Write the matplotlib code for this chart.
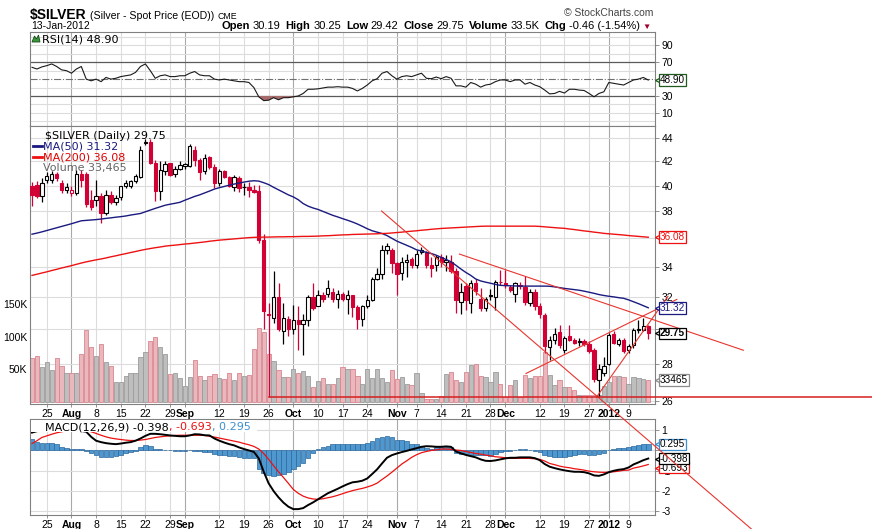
import matplotlib

matplotlib.use("Agg")
import matplotlib.pyplot as plt
import numpy as np
import pandas as pd
from matplotlib.lines import Line2D
from matplotlib.patches import Polygon, Rectangle
from matplotlib.ticker import NullLocator
from matplotlib.transforms import blended_transform_factory, offset_copy

plt.rcParams["font.family"] = ["Liberation Sans", "DejaVu Sans"]

W, H = 872, 529
RED = "#d10035"
MA50_COLOR = "#1a1a80"
MA200_COLOR = "#ee1111"
TREND_COLOR = "#e8352e"
GRID = "#dcdcdc"
MONTH_GRID = "#a9a9a9"
LEGEND_FONT = "DejaVu Sans"

# Trading days on the chart (no bars on 26 Dec and 2 Jan).
dates = pd.bdate_range("2011-07-20", "2012-01-13").drop(
    pd.to_datetime(["2011-12-26", "2012-01-02"])
)

opens = [
    40.0, 40.1, 39.2, 40.5, 40.5, 41.0, 40.2, 39.7, 39.4, 39.4,
    41.0, 41.0, 38.9, 38.9, 39.2, 37.9, 39.3, 38.7, 39.1, 40.0,
    40.0, 40.4, 40.7, 43.6, 43.7, 41.9, 39.6, 41.2, 41.9, 41.0,
    41.4, 41.6, 41.6, 43.0, 42.1, 41.2, 42.4, 41.5, 40.2, 41.2,
    40.7, 39.9, 40.6, 39.9, 39.9, 39.7, 39.6, 35.9, 30.95, 30.7,
    32.0, 29.9, 30.65, 30.0, 30.55, 30.3, 30.55, 32.0, 31.4, 32.1,
    32.2, 32.3, 31.85, 32.2, 31.9, 32.1, 31.35, 30.6, 31.4, 31.8,
    33.2, 33.5, 35.15, 35.2, 34.25, 33.55, 34.3, 34.55, 34.1, 35.0,
    35.05, 34.1, 34.1, 34.7, 34.35, 34.35, 33.75, 31.7, 32.7, 31.6,
    32.9, 31.9, 31.3, 32.1, 32.0, 33.0, 32.9, 32.65, 32.2, 32.8,
    32.65, 31.6, 32.35, 31.4, 30.86, 28.96, 29.35, 29.84, 28.76, 29.6,
    29.35, 29.3, 29.3, 29.15, 28.76, 27.12, 27.48, 28.0, 29.7, 29.15,
    29.35, 28.8, 29.06, 29.94, 29.98, 30.19,
]
highs = [
    40.3, 40.4, 40.6, 41.1, 41.2, 41.1, 40.5, 40.2, 40.0, 41.3,
    41.3, 41.1, 39.7, 40.5, 39.4, 39.7, 39.6, 39.3, 40.0, 40.5,
    40.5, 41.0, 43.3, 43.9, 43.9, 42.1, 42.0, 42.0, 41.9, 41.6,
    42.0, 41.9, 43.5, 43.3, 42.3, 42.6, 42.5, 41.8, 41.4, 41.3,
    40.8, 40.9, 40.8, 40.2, 40.3, 40.1, 40.1, 36.3, 31.6, 33.7,
    32.9, 31.6, 30.8, 31.5, 31.4, 30.9, 32.1, 32.9, 32.45, 32.3,
    33.1, 32.6, 32.45, 32.3, 32.45, 32.15, 31.5, 31.5, 32.1, 33.3,
    33.9, 35.5, 35.7, 35.3, 34.35, 34.7, 34.9, 34.7, 35.15, 35.35,
    35.1, 34.7, 34.85, 34.9, 34.85, 34.8, 33.9, 32.9, 32.9, 33.1,
    33.2, 32.6, 32.0, 32.5, 33.1, 33.8, 33.8, 32.8, 33.0, 33.0,
    33.4, 32.5, 32.5, 31.6, 31.0, 29.6, 30.05, 30.25, 29.6, 30.25,
    29.5, 29.5, 29.4, 29.3, 28.9, 28.0, 28.4, 29.8, 29.9, 29.5,
    29.5, 29.1, 30.1, 30.55, 30.7, 30.25,
]
lows = [
    38.4, 39.0, 38.7, 40.2, 40.2, 40.4, 39.4, 39.4, 39.2, 39.3,
    39.9, 38.3, 38.1, 38.4, 37.1, 37.7, 38.6, 38.5, 38.9, 39.8,
    39.8, 40.2, 40.6, 43.4, 41.8, 38.8, 38.9, 40.9, 40.8, 40.7,
    41.3, 41.4, 41.5, 41.6, 40.5, 41.0, 41.4, 39.8, 40.0, 40.6,
    39.9, 39.6, 39.5, 39.3, 39.1, 39.4, 35.7, 30.0, 26.17, 30.4,
    29.9, 29.15, 29.6, 29.7, 28.8, 28.5, 30.2, 31.2, 31.4, 31.7,
    32.0, 31.7, 31.3, 31.75, 30.95, 30.75, 30.0, 30.2, 31.3, 31.75,
    33.1, 33.2, 34.9, 33.55, 32.1, 33.1, 33.3, 33.9, 33.9, 34.9,
    33.9, 33.3, 33.75, 34.0, 33.75, 33.55, 31.0, 30.9, 31.2, 31.0,
    32.1, 31.1, 31.1, 31.8, 31.2, 32.8, 32.6, 32.3, 31.7, 32.5,
    31.5, 31.4, 31.2, 30.7, 28.6, 28.2, 29.1, 28.9, 28.6, 29.3,
    29.1, 29.0, 29.0, 28.6, 27.0, 26.19, 27.3, 27.9, 29.1, 29.0,
    28.6, 28.6, 28.9, 29.8, 29.9, 29.42,
]
closes = [
    39.3, 39.2, 40.2, 40.8, 41.0, 40.6, 39.7, 39.9, 39.7, 41.0,
    40.5, 38.6, 38.3, 39.2, 37.9, 39.3, 38.7, 39.0, 40.0, 40.2,
    40.4, 40.8, 43.0, 43.7, 41.9, 39.6, 41.3, 41.8, 40.9, 41.4,
    41.7, 41.8, 43.3, 42.1, 41.1, 42.3, 41.5, 40.2, 41.2, 40.7,
    40.0, 40.7, 39.8, 39.9, 39.7, 39.5, 35.9, 31.1, 30.85, 32.0,
    30.0, 30.7, 30.0, 30.55, 30.3, 30.55, 32.0, 31.3, 32.1, 31.9,
    32.6, 31.85, 32.2, 31.85, 32.1, 31.35, 30.6, 31.4, 31.8, 33.2,
    33.5, 35.15, 35.45, 34.25, 33.5, 34.3, 34.5, 34.1, 34.9, 35.2,
    34.1, 33.9, 34.7, 34.35, 34.5, 33.75, 31.8, 32.3, 31.8, 32.9,
    32.4, 31.3, 31.9, 32.05, 33.0, 32.95, 32.8, 32.45, 32.9, 32.7,
    31.7, 32.35, 31.4, 30.9, 29.0, 29.35, 29.7, 29.06, 29.45, 29.35,
    29.2, 29.25, 29.15, 28.72, 27.17, 27.72, 27.85, 29.65, 29.2, 29.35,
    28.72, 29.0, 29.94, 30.0, 30.21, 29.75,
]
# volume in thousands
volume_k = [
    67, 71, 53, 61, 49, 68, 55, 44, 44, 44,
    73, 111, 84, 71, 89, 61, 55, 30, 30, 39,
    44, 45, 69, 77, 94, 100, 84, 73, 42, 44,
    36, 25, 38, 65, 39, 34, 39, 42, 36, 35,
    45, 34, 44, 39, 41, 81, 113, 107, 73, 62,
    49, 38, 38, 50, 44, 47, 39, 22, 32, 36,
    28, 27, 36, 53, 51, 51, 39, 27, 50, 36,
    51, 36, 31, 49, 35, 38, 28, 26, 45, 13,
    5, 5, 5, 9, 42, 46, 34, 31, 46, 56,
    58, 40, 38, 31, 46, 28, 8, 26, 34, 8,
    41, 36, 39, 40, 77, 41, 26, 34, 23, 23,
    18, 10, 10, 10, 10, 10, 24, 31, 39, 39,
    38, 28, 38, 36, 35, 33.465,
]
ma50 = [
    36.30, 36.38, 36.47, 36.57, 36.67, 36.77, 36.87, 36.97, 37.07, 37.18,
    37.29, 37.32, 37.35, 37.38, 37.42, 37.47, 37.51, 37.56, 37.60, 37.65,
    37.72, 37.78, 37.84, 37.97, 38.10, 38.23, 38.35, 38.47, 38.55, 38.62,
    38.70, 38.86, 39.01, 39.16, 39.28, 39.43, 39.58, 39.74, 39.85, 39.95,
    40.05, 40.14, 40.22, 40.30, 40.37, 40.41, 40.38, 40.25, 40.10, 39.88,
    39.68, 39.48, 39.28, 39.12, 38.90, 38.60, 38.40, 38.26, 38.15, 38.00,
    37.85, 37.70, 37.58, 37.45, 37.33, 37.20, 37.05, 36.88, 36.70, 36.55,
    36.45, 36.35, 36.20, 36.00, 35.80, 35.65, 35.50, 35.35, 35.18, 35.10,
    35.00, 34.92, 34.80, 34.65, 34.50, 34.35, 34.10, 33.85, 33.62, 33.42,
    33.18, 33.05, 32.97, 32.90, 32.82, 32.76, 32.74, 32.73, 32.72, 32.71,
    32.71, 32.71, 32.71, 32.71, 32.71, 32.70, 32.66, 32.61, 32.56, 32.52,
    32.48, 32.44, 32.38, 32.31, 32.24, 32.16, 32.10, 32.05, 32.01, 31.96,
    31.92, 31.82, 31.70, 31.58, 31.45, 31.32,
]
ma200 = [
    33.42, 33.50, 33.58, 33.66, 33.75, 33.83, 33.92, 34.00, 34.08, 34.17,
    34.26, 34.34, 34.41, 34.48, 34.54, 34.61, 34.69, 34.76, 34.84, 34.91,
    34.99, 35.06, 35.14, 35.21, 35.27, 35.33, 35.38, 35.44, 35.48, 35.51,
    35.55, 35.59, 35.62, 35.66, 35.70, 35.74, 35.79, 35.83, 35.87, 35.90,
    35.93, 35.96, 35.99, 36.02, 36.05, 36.07, 36.08, 36.09, 36.09, 36.10,
    36.11, 36.11, 36.12, 36.12, 36.13, 36.14, 36.14, 36.15, 36.16, 36.18,
    36.19, 36.21, 36.23, 36.25, 36.26, 36.28, 36.29, 36.30, 36.31, 36.32,
    36.33, 36.35, 36.36, 36.39, 36.42, 36.45, 36.49, 36.52, 36.55, 36.59,
    36.62, 36.66, 36.69, 36.72, 36.74, 36.76, 36.78, 36.80, 36.82, 36.84,
    36.86, 36.88, 36.89, 36.89, 36.89, 36.89, 36.89, 36.89, 36.89, 36.89,
    36.89, 36.89, 36.89, 36.87, 36.84, 36.81, 36.78, 36.75, 36.73, 36.68,
    36.64, 36.59, 36.54, 36.50, 36.45, 36.41, 36.36, 36.33, 36.30, 36.27,
    36.24, 36.20, 36.17, 36.14, 36.11, 36.08,
]
rsi14 = [
    64, 62, 64.5, 66, 68, 65, 61, 60, 57, 62,
    65, 50, 48, 50, 47, 52, 50, 51, 53, 54,
    55, 58, 65, 68, 60, 51, 54, 55, 53, 53,
    54, 54, 57, 59, 55, 54, 54, 50, 49, 50,
    49, 48, 47, 47, 46, 40, 29, 24.5, 25, 28,
    25.5, 28, 28, 29, 30, 33, 38, 38, 38.5, 39.5,
    40.5, 40.5, 41, 40.5, 40.5, 39, 36, 39, 43, 48,
    50.5, 57, 59, 54, 50, 53, 54, 53, 55, 57,
    51, 50.5, 52.5, 50.5, 53, 51, 42, 42, 40.5, 46,
    44, 40.5, 43, 44, 47, 49, 49, 47, 49, 49,
    44, 46, 43, 41, 37, 32.5, 33, 35.5, 33.5, 38,
    38, 37, 36.5, 33, 29, 33, 35, 46, 45, 44,
    43, 46, 49, 50, 52, 48.90,
]
macd_line = [
    0.88, 0.95, 1.0, 1.05, 1.1, 1.15, 1.12, 1.07, 1.02, 0.99,
    0.96, 0.92, 0.67, 0.48, 0.41, 0.36, 0.33, 0.31, 0.34, 0.38,
    0.41, 0.48, 0.59, 0.72, 0.82, 0.82, 0.80, 0.77, 0.74, 0.72,
    0.70, 0.70, 0.74, 0.80, 0.79, 0.75, 0.74, 0.59, 0.48, 0.39,
    0.31, 0.25, 0.15, 0.07, 0.0, -0.07, -0.39, -1.05, -1.62, -2.0,
    -2.31, -2.57, -2.77, -2.89, -2.89, -2.84, -2.69, -2.56, -2.41, -2.26,
    -2.11, -2.0, -1.89, -1.77, -1.66, -1.57, -1.54, -1.49, -1.38, -1.16,
    -0.93, -0.64, -0.36, -0.23, -0.15, -0.08, -0.02, 0.05, 0.11, 0.18,
    0.21, 0.20, 0.18, 0.18, 0.20, 0.18, -0.05, -0.14, -0.22, -0.28,
    -0.34, -0.44, -0.51, -0.52, -0.49, -0.44, -0.39, -0.36, -0.36, -0.34,
    -0.34, -0.34, -0.38, -0.48, -0.67, -0.80, -0.87, -0.93, -0.98, -1.02,
    -1.05, -1.05, -1.07, -1.13, -1.23, -1.25, -1.18, -1.07, -1.0, -0.95,
    -0.92, -0.84, -0.69, -0.59, -0.48, -0.398,
]
macd_signal = [
    0.34, 0.48, 0.64, 0.72, 0.80, 0.87, 0.92, 0.97, 0.98, 1.0,
    1.0, 1.0, 0.92, 0.84, 0.75, 0.67, 0.61, 0.57, 0.54, 0.51,
    0.49, 0.49, 0.51, 0.54, 0.59, 0.64, 0.67, 0.70, 0.72, 0.74,
    0.75, 0.75, 0.75, 0.75, 0.75, 0.74, 0.70, 0.66, 0.61, 0.56,
    0.51, 0.46, 0.41, 0.34, 0.28, 0.20, 0.07, -0.15, -0.44, -0.75,
    -1.05, -1.33, -1.62, -1.92, -2.11, -2.25, -2.34, -2.39, -2.41, -2.38,
    -2.33, -2.28, -2.21, -2.13, -2.05, -1.98, -1.92, -1.87, -1.80, -1.72,
    -1.61, -1.43, -1.26, -1.07, -0.87, -0.67, -0.51, -0.34, -0.21, -0.11,
    -0.05, 0.0, 0.03, 0.07, 0.07, 0.05, 0.02, 0.0, -0.05, -0.10,
    -0.15, -0.18, -0.23, -0.26, -0.31, -0.33, -0.36, -0.39, -0.39, -0.39,
    -0.39, -0.39, -0.41, -0.44, -0.52, -0.64, -0.70, -0.77, -0.82, -0.85,
    -0.90, -0.93, -0.97, -1.02, -1.05, -1.07, -1.08, -1.07, -1.05, -1.02,
    -0.98, -0.97, -0.87, -0.82, -0.76, -0.693,
]
macd_hist = [
    0.54, 0.43, 0.39, 0.39, 0.36, 0.30, 0.18, 0.10, 0.05, 0.08,
    0.07, -0.05, -0.11, -0.23, -0.34, -0.31, -0.34, -0.28, -0.20, -0.13,
    -0.10, -0.02, 0.15, 0.26, 0.21, 0.05, 0.05, 0.03, 0.02, -0.03,
    -0.03, -0.02, 0.02, -0.02, -0.05, -0.10, -0.10, -0.18, -0.20, -0.21,
    -0.25, -0.28, -0.31, -0.36, -0.36, -0.39, -0.93, -1.13, -1.21, -1.25,
    -1.21, -1.16, -1.05, -0.93, -0.77, -0.61, -0.36, -0.11, 0.08, 0.18,
    0.23, 0.30, 0.34, 0.34, 0.31, 0.30, 0.30, 0.34, 0.39, 0.46,
    0.59, 0.67, 0.70, 0.67, 0.51, 0.51, 0.48, 0.34, 0.30, 0.21,
    0.13, 0.05, 0.15, 0.18, 0.15, 0.15, -0.11, -0.15, -0.18, -0.20,
    -0.20, -0.23, -0.23, -0.25, -0.15, -0.08, -0.02, -0.02, 0.02, 0.07,
    0.05, 0.02, -0.02, -0.10, -0.20, -0.28, -0.31, -0.34, -0.31, -0.28,
    -0.23, -0.18, -0.18, -0.23, -0.23, -0.18, -0.11, 0.02, 0.07, 0.10,
    0.13, 0.18, 0.23, 0.26, 0.30, 0.295,
]

tick_dates = [
    "2011-07-25", "2011-08-01", "2011-08-08", "2011-08-15", "2011-08-22",
    "2011-08-29", "2011-09-01", "2011-09-12", "2011-09-19", "2011-09-26",
    "2011-10-03", "2011-10-10", "2011-10-17", "2011-10-24", "2011-11-01",
    "2011-11-07", "2011-11-14", "2011-11-21", "2011-11-28", "2011-12-01",
    "2011-12-12", "2011-12-19", "2011-12-27", "2012-01-03", "2012-01-09",
]
tick_labels = [
    "25", "Aug", "8", "15", "22", "29", "Sep", "12", "19", "26", "Oct", "10",
    "17", "24", "Nov", "7", "14", "21", "28", "Dec", "12", "19", "27", "2012", "9",
]
MONTH_LABELS = {"Aug", "Sep", "Oct", "Nov", "Dec", "2012"}
price_levels = [26, 28, 30, 32, 34, 36, 38, 40, 42, 44]
price_labels = ["26", "28", "", "32", "34", "", "38", "40", "42", "44"]

# Hand-drawn trendlines as (day index, price) end points.
trendlines = [
    [(70.9, 38.03), (146.0, 20.08)],
    [(86.7, 34.88), (144.3, 28.76)],
    [(100.2, 27.45), (130.8, 31.85)],
    [(114.5, 26.18), (129.0, 32.05)],
]
support_line = [(48.0, 26.17), (170.4, 26.17)]

fig = plt.figure(figsize=(W / 100, H / 100), dpi=100)


def px_axes(x0, y0, x1, y1):
    """Adds axes given in pixel coordinates measured from the top left."""
    return fig.add_axes([x0 / W, 1 - y1 / H, (x1 - x0) / W, (y1 - y0) / H])


def text_run(x_px, y_px, parts, **common):
    """Writes pieces of text one after another on a single baseline."""
    renderer = fig.canvas.get_renderer()
    x = x_px
    for s, kw, gap in parts:
        t = fig.text(x / W, 1 - y_px / H, s, va="baseline", **common, **kw)
        x += t.get_window_extent(renderer).width + gap
    return x


def draw_tag(ax, y, text, edge, color="black", weight="normal", dy_px=0.0):
    """Draws a boxed value label with a pointer just right of a panel."""
    trans = blended_transform_factory(ax.transAxes, ax.transData)
    trans = offset_copy(trans, fig=fig, x=0, y=-dy_px * 0.72, units="points")
    ax.plot([1.0 + 4.5 / 625], [y], marker="<", ms=6.5, mfc="white", mec=edge, mew=0.9,
            transform=trans, clip_on=False, zorder=7)
    ax.text(1.0 + 5 / 625, y, text, transform=trans, ha="left", va="center",
            fontsize=7.2, color=color, fontweight=weight, zorder=8, clip_on=False,
            bbox=dict(boxstyle="square,pad=0.08", fc="white", ec=edge, lw=0.9))


def fig_line(x0, x1, y, color, lw=2.0):
    fig.add_artist(Line2D([x0 / W, x1 / W], [1 - y / H, 1 - y / H],
                          transform=fig.transFigure, color=color, lw=lw))


def main():
    n = len(closes)
    x = np.arange(n)
    xlim = (-0.41, 126.37)
    tick_pos = [dates.get_loc(pd.Timestamp(d)) for d in tick_dates]
    prev_close = np.r_[opens[0], closes[:-1]]
    down = np.array(closes) < prev_close

    ax_rsi = px_axes(30, 32, 655, 126)
    ax_px = px_axes(30, 126, 655, 404)
    ax_macd = px_axes(30, 419, 655, 515)
    ax_vol = ax_px.twinx()
    ax_vol.set_zorder(1)
    ax_px.set_zorder(2)
    ax_px.patch.set_visible(False)
    ax_vol.patch.set_visible(True)
    ax_vol.patch.set_facecolor("white")

    for ax, grid_ax, show_dates in ((ax_rsi, ax_rsi, False), (ax_px, ax_vol, True),
                                    (ax_macd, ax_macd, True)):
        ax.set_xlim(*xlim)
        for s in ax.spines.values():
            s.set_color("#808080")
            s.set_linewidth(0.8)
        ax.yaxis.tick_right()
        ax.tick_params(axis="y", which="both", length=3, width=0.6, color="#808080",
                       labelsize=7.5, pad=1.5)
        ax.tick_params(axis="x", length=2 if show_dates else 0, width=0.6,
                       color="#808080", labelsize=7.5, pad=1.5)
        ax.set_xticks(tick_pos)
        ax.set_xticklabels(tick_labels if show_dates else [])
        for t in ax.get_xticklabels():
            if t.get_text() in MONTH_LABELS:
                t.set_fontweight("bold")
        for p, lab in zip(tick_pos, tick_labels):
            grid_ax.axvline(p, color=MONTH_GRID if lab in MONTH_LABELS else GRID,
                            lw=0.8, zorder=0)

    # RSI panel
    ax_rsi.set_ylim(-5.6, 105.9)
    for v in range(0, 101, 10):
        if v in (30, 70):
            ax_rsi.axhline(v, color="#5a5a5a", lw=0.9, zorder=1)
        elif v == 50:
            ax_rsi.axhline(v, color="#707070", lw=0.8, ls="-.", zorder=1)
        else:
            ax_rsi.axhline(v, color=GRID, lw=0.8, zorder=0)
    ax_rsi.set_yticks([10, 30, 70, 90])
    r = np.array(rsi14)
    ax_rsi.fill_between(x, r, 30, where=r < 30, interpolate=True,
                        color="#a86b6b", lw=0, zorder=2)
    ax_rsi.plot(x, r, color="#1a1a1a", lw=0.8, zorder=3)
    draw_tag(ax_rsi, 48.90, "48.90", "#1f5a1f")

    # price panel with volume behind it
    ax_px.set_yscale("log")
    ax_px.set_ylim(25.82, 45.1)
    ax_px.set_yticks(price_levels)
    ax_px.set_yticklabels(price_labels)
    ax_px.yaxis.set_minor_locator(NullLocator())
    hgrid = blended_transform_factory(ax_vol.transAxes, ax_px.transData)
    for v in price_levels:
        ax_vol.plot([0, 1], [v, v], transform=hgrid, color=GRID, lw=0.8, zorder=0)

    ax_vol.bar(x, volume_k, width=0.86,
               color=np.where(down, "#eab7bc", "#bebebe"),
               edgecolor=np.where(down, "#d98690", "#9c9c9c"), linewidth=0.6, zorder=2)
    ax_vol.set_ylim(-3.4, 424.3)
    ax_vol.yaxis.tick_left()
    ax_vol.set_yticks([50, 100, 150])
    ax_vol.set_yticklabels(["50K", "100K", "150K"])
    ax_vol.tick_params(axis="y", length=0, labelsize=7.5, pad=2)
    for s in ax_vol.spines.values():
        s.set_visible(False)

    for i in range(n):
        o, h, l, c = opens[i], highs[i], lows[i], closes[i]
        col = RED if down[i] else "black"
        ax_px.vlines(i, l, h, color=col, lw=0.9, zorder=3)
        ax_px.add_patch(Rectangle((i - 0.34, min(o, c)), 0.68, abs(c - o),
                                  facecolor=col if c < o else "white",
                                  edgecolor=col, lw=0.8, zorder=4))
    ax_px.plot(x, ma50, color=MA50_COLOR, lw=1.0, zorder=5)
    ax_px.plot(x, ma200, color=MA200_COLOR, lw=1.0, zorder=5)
    for (x0, p0), (x1, p1) in trendlines:
        ax_px.plot([x0, x1], [p0, p1], color=TREND_COLOR, lw=0.8, clip_on=False, zorder=6)
    (x0, p0), (x1, p1) = support_line
    ax_px.plot([x0, x1], [p0, p1], color="#d42020", lw=1.1, clip_on=False, zorder=6)

    draw_tag(ax_px, 36.08, "36.08", MA200_COLOR, color=MA200_COLOR)
    draw_tag(ax_px, 31.32, "31.32", MA50_COLOR, color=MA50_COLOR)
    draw_tag(ax_px, 29.75, "29.75", "black", weight="bold")
    draw_tag(ax_vol, 33.465, "33465", "#8c8c8c")

    # MACD panel
    ax_macd.set_ylim(-3.18, 1.55)
    for v in (1, 0, -1, -2, -3):
        ax_macd.axhline(v, color=GRID, lw=0.8, zorder=0)
    ax_macd.set_yticks([1, 0, -1, -2, -3])
    ax_macd.set_yticklabels(["1", "", "-1", "-2", "-3"])
    ax_macd.bar(x, macd_hist, width=0.92, color="#4f97cf", edgecolor="#2a679e",
                lw=0.5, zorder=2)
    ax_macd.plot(x, macd_signal, color=MA200_COLOR, lw=0.9, zorder=3)
    ax_macd.plot(x, macd_line, color="black", lw=1.4, zorder=4)
    draw_tag(ax_macd, -0.693, "-0.693", MA200_COLOR, dy_px=3)
    draw_tag(ax_macd, -0.398, "-0.398", "black")
    draw_tag(ax_macd, 0.295, "0.295", "#3d8fd0")

    # panel legends
    leg = dict(family=LEGEND_FONT, fontsize=8)
    fig.add_artist(Polygon([[32 / W, 1 - 42 / H], [34.5 / W, 1 - 36 / H],
                            [36.5 / W, 1 - 39 / H], [38.5 / W, 1 - 35 / H],
                            [40 / W, 1 - 42 / H]], closed=True, transform=fig.transFigure,
                           fc="#3a9a3a", ec="#1a4a1a", lw=0.6))
    text_run(42, 42, [("RSI(14) 48.90", {}, 0)], **leg)
    fig.add_artist(Rectangle((34 / W, 1 - 139 / H), 2.5 / W, 7 / H, transform=fig.transFigure,
                             fc="white", ec="black", lw=0.7))
    fig.add_artist(Rectangle((39 / W, 1 - 138 / H), 2.5 / W, 6 / H, transform=fig.transFigure,
                             fc="black", ec="black", lw=0.7))
    text_run(45, 139, [("$SILVER (Daily) 29.75", {}, 0)], **leg)
    fig_line(33, 42, 146, MA50_COLOR)
    text_run(43, 149.8, [("MA(50) 31.32", {"color": MA50_COLOR}, 0)], **leg)
    fig_line(33, 42, 156.7, MA200_COLOR)
    text_run(43, 160.5, [("MA(200) 36.08", {"color": "#e00000"}, 0)], **leg)
    for k, hh in enumerate((5, 8, 6, 7)):
        fig.add_artist(Rectangle(((33 + 2.3 * k) / W, 1 - 171 / H), 1.6 / W, hh / H,
                                 transform=fig.transFigure, fc="#777777", lw=0))
    text_run(43, 171, [("Volume 33,465", {"color": "#666666"}, 0)], **leg)

    fig.add_artist(Rectangle((31 / W, 1 - 432 / H), 226 / W, 12 / H,
                             transform=fig.transFigure, fc="white", lw=0, zorder=2.9))
    fig_line(33, 42, 426, "black")
    text_run(45, 430, [("MACD(12,26,9) -0.398", {}, 0),
                       (", -0.693", {"color": MA200_COLOR}, 0),
                       (", 0.295", {"color": "#3d8fd0"}, 0)], **leg)

    # header
    text_run(30, 19, [("$SILVER", {"fontsize": 10, "fontweight": "bold"}, 3),
                      ("(Silver - Spot Price (EOD))", {"fontsize": 7.6}, 4),
                      ("CME", {"fontsize": 6.3}, 0)])
    text_run(31, 29, [("13-Jan-2012", {"fontsize": 7.5}, 0)])
    b = {"fontsize": 8, "fontweight": "bold"}
    v = {"fontsize": 8}
    text_run(222, 29, [("Open", b, 2.5), ("30.19", v, 5), ("High", b, 2.5), ("30.25", v, 5),
                       ("Low", b, 2.5), ("29.42", v, 5), ("Close", b, 2.5), ("29.75", v, 5),
                       ("Volume", b, 2.5), ("33.5K", v, 5), ("Chg", b, 2.5),
                       ("-0.46 (-1.54%)", v, 3),
                       ("\u25bc", {"fontsize": 6, "color": "#a00030"}, 0)])
    fig.text(653 / W, 1 - 16 / H, "\u00a9 StockCharts.com", ha="right", va="baseline",
             fontsize=7.5, color="#444444")

    fig.savefig("out.png", dpi=100, facecolor="white")


if __name__ == "__main__":
    main()
